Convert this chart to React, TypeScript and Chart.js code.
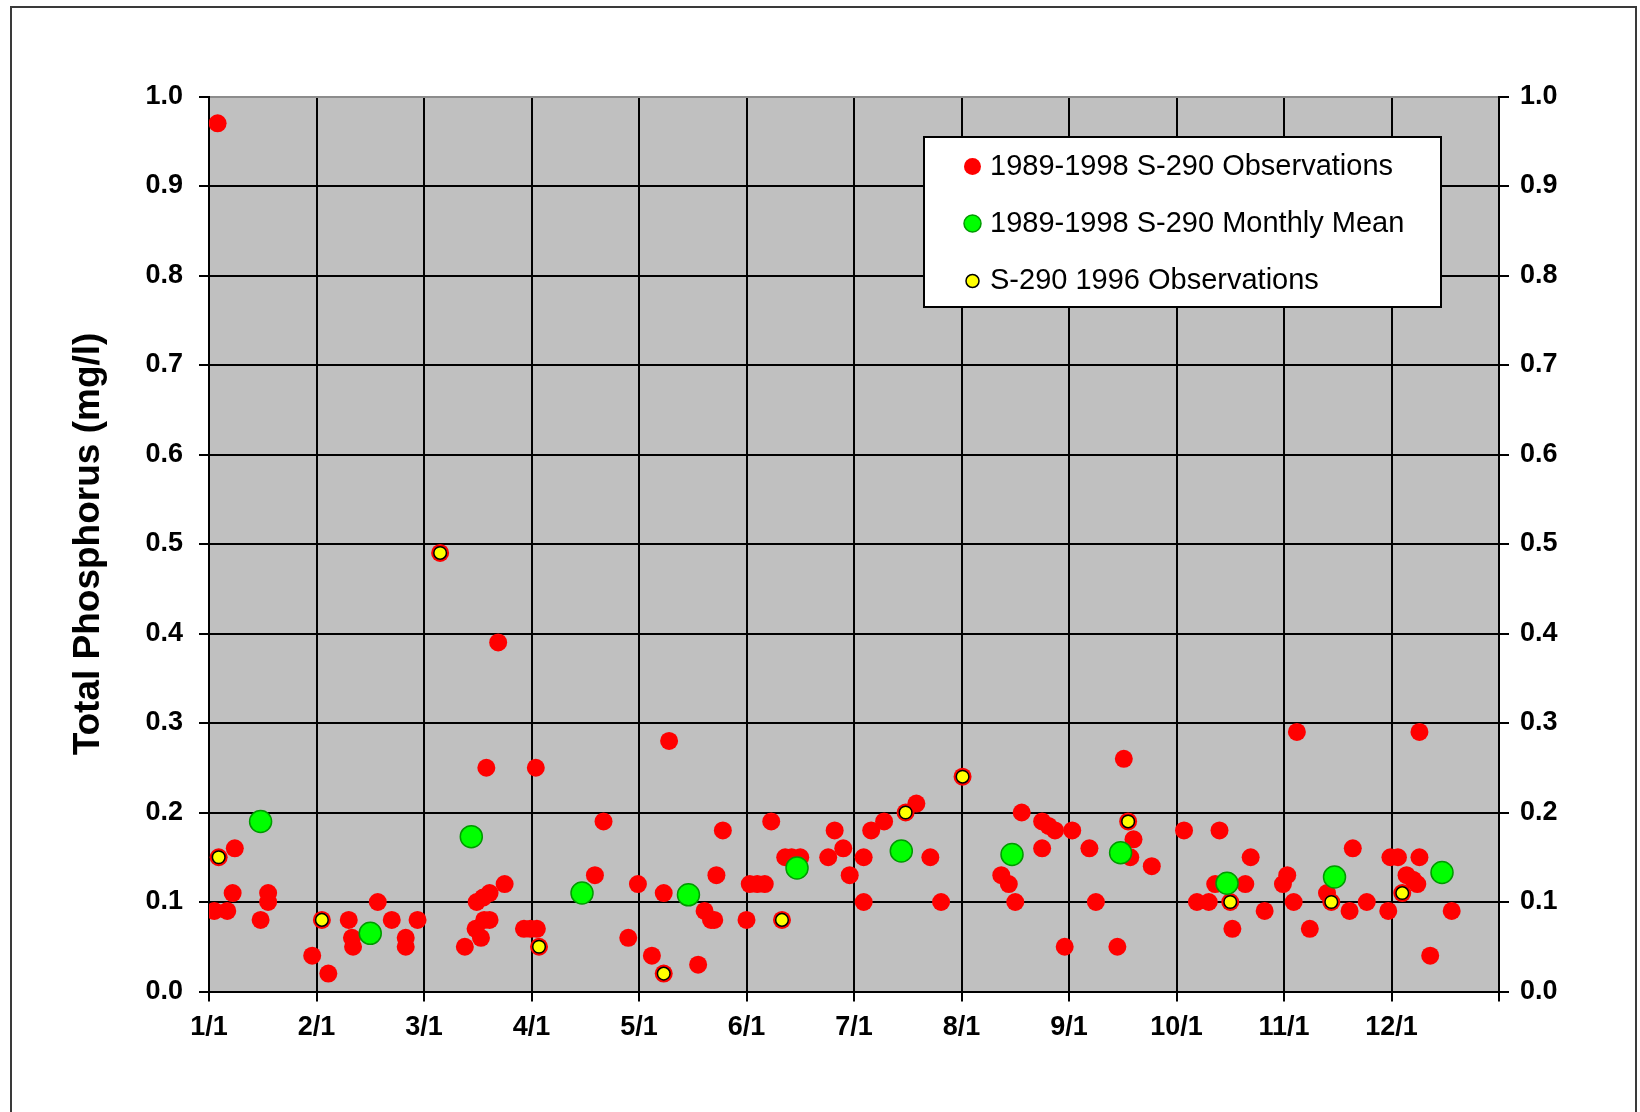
import React, { useEffect, useRef } from 'react';
import { Chart, registerables } from 'chart.js';

Chart.register(...registerables);

// ---- Data (x in month units: 0 = 1/1, 1 = 2/1, ... 12 = end of year) ----
const monthTickLabels = ['1/1', '2/1', '3/1', '4/1', '5/1', '6/1', '7/1', '8/1', '9/1', '10/1', '11/1', '12/1'];

const seriesLabels = [
  '1989-1998 S-290 Observations',
  '1989-1998 S-290 Monthly Mean',
  'S-290 1996 Observations',
];

const obsMonth = [
  0.05, 0.08, 0.09, 0.17, 0.22, 0.24, 0.48, 0.55, 0.55, 0.96,
  1.05, 1.11, 1.30, 1.33, 1.34, 1.57, 1.70, 1.83, 1.83, 1.94,
  2.15, 2.38, 2.48, 2.53, 2.56, 2.61, 2.49, 2.55, 2.61, 2.58, 2.69, 2.75, 2.93, 2.99,
  3.04, 3.05, 3.07, 3.59, 3.67, 3.90, 3.99,
  4.12, 4.23, 4.23, 4.28, 4.55, 4.61, 4.67, 4.70, 4.72, 4.78,
  5.00, 5.03, 5.10, 5.17, 5.23, 5.33, 5.36, 5.42, 5.50, 5.76, 5.82, 5.90, 5.96,
  6.09, 6.09, 6.16, 6.28, 6.48, 6.58, 6.71, 6.81,
  7.01, 7.37, 7.44, 7.50, 7.56, 7.75, 7.75, 7.81, 7.87, 7.96,
  8.03, 8.19, 8.25, 8.45, 8.51, 8.55, 8.57, 8.60, 8.77,
  9.07, 9.19, 9.30, 9.36, 9.40, 9.50, 9.52, 9.64, 9.69, 9.82, 9.99,
  10.03, 10.09, 10.12, 10.24, 10.40, 10.44, 10.61, 10.64, 10.77, 10.97,
  10.99, 11.06, 11.10, 11.14, 11.20, 11.24, 11.26, 11.26, 11.36, 11.56,
];
const obsTP = [
  0.09, 0.97, 0.15, 0.09, 0.11, 0.16, 0.08, 0.11, 0.10, 0.04,
  0.08, 0.02, 0.08, 0.06, 0.05, 0.10, 0.08, 0.06, 0.05, 0.08,
  0.49, 0.05, 0.07, 0.06, 0.08, 0.08, 0.10, 0.105, 0.11, 0.25, 0.39, 0.12, 0.07, 0.07,
  0.25, 0.07, 0.05, 0.13, 0.19, 0.06, 0.12,
  0.04, 0.02, 0.11, 0.28, 0.03, 0.09, 0.08, 0.08, 0.13, 0.18,
  0.08, 0.12, 0.12, 0.12, 0.19, 0.08, 0.15, 0.15, 0.15, 0.15, 0.18, 0.16, 0.13,
  0.15, 0.10, 0.18, 0.19, 0.20, 0.21, 0.15, 0.10,
  0.24, 0.13, 0.12, 0.10, 0.20, 0.16, 0.19, 0.185, 0.18, 0.05,
  0.18, 0.16, 0.10, 0.05, 0.26, 0.19, 0.15, 0.17, 0.14,
  0.18, 0.10, 0.10, 0.12, 0.18, 0.10, 0.07, 0.12, 0.15, 0.09, 0.12,
  0.13, 0.10, 0.29, 0.07, 0.11, 0.10, 0.09, 0.16, 0.10, 0.09,
  0.15, 0.15, 0.11, 0.13, 0.125, 0.12, 0.29, 0.15, 0.04, 0.09,
];

const meanMonth = [0.48, 1.50, 2.44, 3.47, 4.46, 5.47, 6.44, 7.47, 8.48, 9.47, 10.47, 11.47];
const meanTP = [0.19, 0.065, 0.173, 0.11, 0.108, 0.138, 0.157, 0.153, 0.155, 0.121, 0.128, 0.133];

const obs96Month = [0.09, 1.05, 2.15, 3.07, 4.23, 5.33, 6.48, 7.01, 8.55, 9.50, 10.44, 11.10];
const obs96TP = [0.15, 0.08, 0.49, 0.05, 0.02, 0.08, 0.20, 0.24, 0.19, 0.10, 0.10, 0.11];

// ---- Helpers / styles ----
const FONT = "'Liberation Sans', Arial, Helvetica, sans-serif";
const toPoints = (xs: number[], ys: number[]) => xs.map((x, i) => ({ x, y: ys[i] }));

const frameAndBackground = {
  id: 'frameAndBackground',
  beforeDraw(chart: any) {
    const { ctx, chartArea } = chart;
    ctx.save();
    ctx.fillStyle = '#ffffff';
    ctx.fillRect(0, 0, chart.width, chart.height);
    ctx.strokeStyle = '#3a3a3a';
    ctx.lineWidth = 2;
    ctx.strokeRect(11, 7, 1625, 1300);
    ctx.fillStyle = '#c0c0c0';
    ctx.fillRect(chartArea.left, chartArea.top, chartArea.right - chartArea.left, chartArea.bottom - chartArea.top);
    ctx.restore();
  },
};

const legendMarkerRadius = [8.5, 8.5, 6.5];

const boxedLegend = {
  id: 'boxedLegend',
  afterDraw(chart: any) {
    const { ctx } = chart;
    const bx = 924, by = 137, bw = 517, bh = 170;
    ctx.save();
    ctx.fillStyle = '#ffffff';
    ctx.fillRect(bx, by, bw, bh);
    ctx.strokeStyle = '#000000';
    ctx.lineWidth = 2;
    ctx.strokeRect(bx, by, bw, bh);
    const rowY = [166.5, 223.5, 281];
    chart.data.datasets.forEach((ds: any, i: number) => {
      const y = rowY[i];
      ctx.beginPath();
      ctx.arc(972.5, y, legendMarkerRadius[i], 0, Math.PI * 2);
      ctx.fillStyle = ds.backgroundColor;
      ctx.fill();
      if (ds.borderWidth) {
        ctx.lineWidth = ds.borderWidth;
        ctx.strokeStyle = ds.borderColor;
        ctx.stroke();
      }
      ctx.fillStyle = '#000000';
      ctx.font = `29px ${FONT}`;
      ctx.textAlign = 'left';
      ctx.textBaseline = 'middle';
      ctx.fillText(ds.label, 990, y);
    });
    ctx.restore();
  },
};

const tickFont = { family: FONT, size: 27, weight: 'bold' as const };

export default function App() {
  const canvasRef = useRef<HTMLCanvasElement | null>(null);

  useEffect(() => {
    const canvas = canvasRef.current;
    if (!canvas) return;
    const chart = new Chart(canvas, {
      type: 'scatter',
      data: {
        datasets: [
          {
            label: seriesLabels[0],
            data: toPoints(obsMonth, obsTP),
            backgroundColor: '#ff0000',
            borderColor: '#ff0000',
            borderWidth: 0,
            pointRadius: 9,
            order: 3,
          },
          {
            label: seriesLabels[1],
            data: toPoints(meanMonth, meanTP),
            backgroundColor: '#00ff00',
            borderColor: '#009a00',
            borderWidth: 1.5,
            pointRadius: 11,
            order: 2,
          },
          {
            label: seriesLabels[2],
            data: toPoints(obs96Month, obs96TP),
            backgroundColor: '#ffff00',
            borderColor: '#000000',
            borderWidth: 1.5,
            pointRadius: 6.3,
            order: 1,
          },
        ],
      },
      options: {
        responsive: false,
        devicePixelRatio: 1,
        animation: false,
        events: [],
        layout: { padding: { top: 96.5, left: 0, right: 0, bottom: 0 }, autoPadding: false },
        plugins: {
          legend: { display: false },
          tooltip: { enabled: false },
          title: { display: false },
        },
        scales: {
          x: {
            type: 'linear',
            position: 'bottom',
            min: 0,
            max: 12,
            afterFit: (s: any) => { s.height = 120.5; },
            ticks: {
              stepSize: 1,
              autoSkip: false,
              maxRotation: 0,
              minRotation: 0,
              padding: 10,
              color: '#000000',
              font: tickFont,
              callback: (v: any) => monthTickLabels[Math.round(Number(v))] ?? '',
            },
            grid: { color: '#000000', lineWidth: 2, tickLength: 10, tickColor: '#000000', tickWidth: 2 },
            border: { display: true, color: '#000000', width: 2 },
          },
          y: {
            type: 'linear',
            position: 'left',
            min: 0,
            max: 1,
            afterFit: (s: any) => { s.width = 209; },
            ticks: {
              stepSize: 0.1,
              padding: 16,
              color: '#000000',
              font: tickFont,
              callback: (v: any) => Number(v).toFixed(1),
            },
            grid: {
              color: (c: any) => (c.tick && c.tick.value > 0.999 ? '#8c8c8c' : '#000000'),
              lineWidth: 2,
              tickLength: 10,
              tickColor: '#000000',
              tickWidth: 2,
            },
            border: { display: true, color: '#000000', width: 2 },
            title: {
              display: true,
              text: 'Total Phosphorus (mg/l)',
              color: '#000000',
              font: { family: FONT, size: 37, weight: 'bold' },
              padding: { top: 66.7, bottom: 0 },
            },
          },
          y2: {
            type: 'linear',
            position: 'right',
            min: 0,
            max: 1,
            afterFit: (s: any) => { s.width = 141; },
            ticks: {
              stepSize: 0.1,
              padding: 11,
              color: '#000000',
              font: tickFont,
              callback: (v: any) => Number(v).toFixed(1),
            },
            grid: { drawOnChartArea: false, color: '#000000', lineWidth: 2, tickLength: 10, tickColor: '#000000', tickWidth: 2 },
            border: { display: true, color: '#000000', width: 2 },
          },
        },
      },
      plugins: [frameAndBackground, boxedLegend],
    });
    return () => chart.destroy();
  }, []);

  return (
    <div style={{ position: 'fixed', left: 0, top: 0, width: 1640, height: 1112, background: '#ffffff', overflow: 'hidden' }}>
      <canvas ref={canvasRef} width={1640} height={1112} style={{ display: 'block', width: 1640, height: 1112 }} />
    </div>
  );
}
